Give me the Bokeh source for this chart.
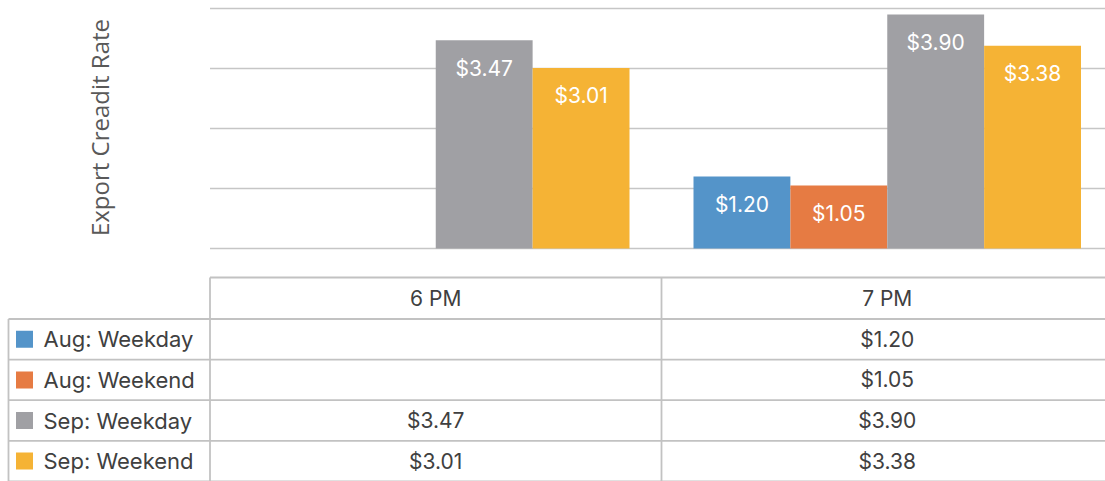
import math
from bokeh.plotting import figure
from bokeh.models import Range1d, ColumnDataSource
from bokeh.core.properties import value
from bokeh.embed import file_html
from bokeh.resources import INLINE

# ---- data ----
categories = ["6 PM", "7 PM"]
series_names = ["Aug: Weekday", "Aug: Weekend", "Sep: Weekday", "Sep: Weekend"]
aug_weekday = [None, 1.20]
aug_weekend = [None, 1.05]
sep_weekday = [3.47, 3.90]
sep_weekend = [3.01, 3.38]
series_values = [aug_weekday, aug_weekend, sep_weekday, sep_weekend]
colors = ["#5494C9", "#E67B43", "#A0A0A4", "#F5B335"]
y_ticks = [0, 1, 2, 3, 4]
y_label = "Export Creadit Rate"

# ---- layout constants (pixels) ----
W, H = 1105, 481
GROUP_PX = 451.5          # width of one category
UNIT_PX = 60.0            # pixels per $1
GROUP_LEFT = 209.5        # canvas x where first category starts
ZERO_Y = 248.0            # canvas y of value 0
PAD = 32.0 / GROUP_PX
BAR_W = (1 - 2 * PAD) / 4

def px2x(cx):
    return (cx - GROUP_LEFT) / GROUP_PX

x_start = -GROUP_LEFT / GROUP_PX
x_end = (W - GROUP_LEFT) / GROUP_PX
y_end = ZERO_Y / UNIT_PX
y_start = -(H - ZERO_Y) / UNIT_PX

p = figure(width=W, height=H, output_backend="svg", toolbar_location=None,
           x_range=Range1d(x_start, x_end), y_range=Range1d(y_start, y_end),
           x_axis_location=None, y_axis_location=None, min_border=0,
           outline_line_color=None, tools="")
p.grid.visible = False
p.extra_y_ranges = {"tbl": Range1d(start=H, end=0)}

# gridlines
p.segment(x0=[0] * len(y_ticks), x1=[x_end] * len(y_ticks), y0=y_ticks, y1=y_ticks,
          line_color="#c6c6c6", line_width=1.6)

# bars
font = value("Inter")
for j, (vals, col) in enumerate(zip(series_values, colors)):
    xs, tops, labels = [], [], []
    for i, v in enumerate(vals):
        if v is None:
            continue
        xs.append(i + PAD + BAR_W * (j + 0.5))
        tops.append(v)
        labels.append("$%.2f" % v)
    src = ColumnDataSource(dict(x=xs, top=tops, ly=[t - 28 / UNIT_PX for t in tops], lab=labels))
    p.vbar(x="x", top="top", bottom=0, width=BAR_W, fill_color=col, line_color=None, source=src)
    p.text(x="x", y="ly", text="lab", text_color="white", text_font=font,
           text_font_size="21px", text_align="center", text_baseline="middle", source=src)

# y axis label
p.text(x=[px2x(99)], y=[(ZERO_Y - 127) / UNIT_PX], text=[y_label], angle=math.pi / 2,
       text_color="#595959", text_font=value("Open Sans"), text_font_size="24px",
       text_align="center", text_baseline="middle")

# ---- data table ----
line_col = "#c2c2c2"
HEAD_TOP = 277.0
ROW0 = 318.5
ROW_H = 40.6
n_rows = len(series_names)
row_lines = [ROW0 + k * ROW_H for k in range(n_rows + 1)]
left_edge = px2x(8.0)

# header top
p.segment(x0=[0], x1=[x_end], y0=[HEAD_TOP], y1=[HEAD_TOP], y_range_name="tbl",
          line_color=line_col, line_width=1.8)
# row lines
p.segment(x0=[left_edge] * len(row_lines), x1=[x_end] * len(row_lines),
          y0=row_lines, y1=row_lines, y_range_name="tbl", line_color=line_col, line_width=1.8)
# verticals
p.segment(x0=[left_edge], x1=[left_edge], y0=[ROW0], y1=[H], y_range_name="tbl",
          line_color=line_col, line_width=1.8)
p.segment(x0=[0, 1], x1=[0, 1], y0=[HEAD_TOP, HEAD_TOP], y1=[H, H], y_range_name="tbl",
          line_color=line_col, line_width=1.8)

# header text
p.text(x=[i + 0.5 for i in range(len(categories))], y=[(HEAD_TOP + ROW0) / 2] * len(categories),
       text=categories, y_range_name="tbl", text_color="#404040", text_font=font,
       text_font_size="21px", text_align="center", text_baseline="middle")

row_centers = [ROW0 + (k + 0.5) * ROW_H for k in range(n_rows)]
# legend swatches
p.rect(x=[px2x(24)] * n_rows, y=row_centers, width=17, height=17, width_units="screen",
       height_units="screen", fill_color=colors, line_color=None, y_range_name="tbl")
p.text(x=[px2x(43)] * n_rows, y=row_centers, text=series_names, y_range_name="tbl",
       text_color="#404040", text_font=font, text_font_size="22px", text_align="left",
       text_baseline="middle")

# cell values
cx, cy, ct = [], [], []
for k, vals in enumerate(series_values):
    for i, v in enumerate(vals):
        if v is None:
            continue
        cx.append(i + 0.5)
        cy.append(row_centers[k])
        ct.append("$%.2f" % v)
p.text(x=cx, y=cy, text=ct, y_range_name="tbl", text_color="#404040", text_font=font,
       text_font_size="21px", text_align="center", text_baseline="middle")

open("out.html", "w").write(file_html(p, INLINE))
